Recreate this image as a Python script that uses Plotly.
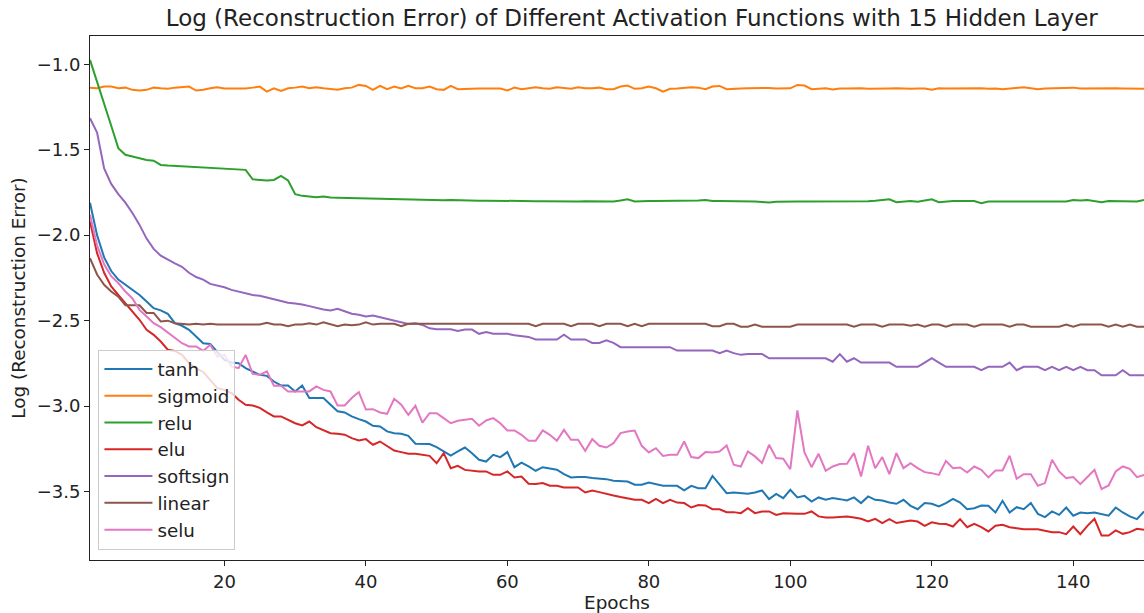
import plotly.graph_objects as go

epochs = list(range(1, 151))

tanh = [-1.81, -2.00, -2.13, -2.21, -2.26, -2.29, -2.32, -2.35, -2.388, -2.427,
        -2.44, -2.46, -2.515, -2.53, -2.554, -2.593, -2.632, -2.636, -2.68, -2.73,
        -2.745, -2.749, -2.778, -2.797, -2.817, -2.823, -2.856, -2.879, -2.879, -2.914,
        -2.879, -2.953, -2.953, -2.953, -2.992, -3.03, -3.037, -3.06, -3.076, -3.09,
        -3.115, -3.119, -3.148, -3.158, -3.162, -3.174, -3.22, -3.22, -3.222, -3.24,
        -3.265, -3.289, -3.265, -3.242, -3.275, -3.314, -3.324, -3.285, -3.298, -3.269,
        -3.357, -3.33, -3.353, -3.378, -3.357, -3.363, -3.372, -3.398, -3.417, -3.415,
        -3.415, -3.421, -3.425, -3.427, -3.437, -3.441, -3.441, -3.46, -3.46, -3.447,
        -3.456, -3.466, -3.466, -3.466, -3.493, -3.466, -3.48, -3.48, -3.408, -3.46,
        -3.509, -3.505, -3.509, -3.513, -3.505, -3.493, -3.544, -3.513, -3.538, -3.489,
        -3.534, -3.525, -3.558, -3.534, -3.548, -3.538, -3.544, -3.552, -3.534, -3.567,
        -3.528, -3.548, -3.552, -3.564, -3.571, -3.548, -3.583, -3.603, -3.567, -3.571,
        -3.587, -3.567, -3.542, -3.564, -3.603, -3.597, -3.581, -3.583, -3.622, -3.554,
        -3.622, -3.591, -3.603, -3.567, -3.63, -3.649, -3.616, -3.636, -3.593, -3.641,
        -3.622, -3.626, -3.622, -3.63, -3.641, -3.593, -3.622, -3.645, -3.661, -3.616]

sigmoid = [-1.137, -1.141, -1.131, -1.131, -1.141, -1.137, -1.150, -1.154, -1.150, -1.137,
           -1.141, -1.144, -1.137, -1.135, -1.131, -1.154, -1.150, -1.141, -1.135, -1.142,
           -1.141, -1.144, -1.142, -1.137, -1.131, -1.160, -1.141, -1.156, -1.141, -1.137,
           -1.131, -1.141, -1.135, -1.141, -1.146, -1.150, -1.141, -1.137, -1.121, -1.127,
           -1.150, -1.127, -1.146, -1.131, -1.142, -1.127, -1.141, -1.141, -1.131, -1.146,
           -1.150, -1.127, -1.146, -1.144, -1.141, -1.142, -1.142, -1.142, -1.142, -1.154,
           -1.137, -1.146, -1.141, -1.135, -1.141, -1.144, -1.135, -1.141, -1.144, -1.135,
           -1.141, -1.141, -1.137, -1.146, -1.146, -1.131, -1.125, -1.144, -1.141, -1.131,
           -1.141, -1.160, -1.144, -1.142, -1.137, -1.135, -1.137, -1.146, -1.131, -1.127,
           -1.146, -1.142, -1.142, -1.141, -1.139, -1.137, -1.139, -1.142, -1.142, -1.141,
           -1.121, -1.125, -1.146, -1.142, -1.141, -1.148, -1.142, -1.142, -1.141, -1.141,
           -1.144, -1.144, -1.146, -1.142, -1.141, -1.144, -1.144, -1.142, -1.142, -1.150,
           -1.141, -1.142, -1.142, -1.141, -1.139, -1.139, -1.141, -1.144, -1.142, -1.146,
           -1.141, -1.137, -1.135, -1.141, -1.146, -1.142, -1.141, -1.141, -1.142, -1.137,
           -1.142, -1.141, -1.142, -1.142, -1.142, -1.141, -1.142, -1.142, -1.144, -1.144]

relu = [-0.975, -1.10, -1.23, -1.36, -1.491, -1.530, -1.540, -1.550, -1.560, -1.564,
        -1.589, -1.593, -1.595, -1.598, -1.600, -1.602, -1.604, -1.606, -1.608, -1.610,
        -1.612, -1.614, -1.618, -1.673, -1.675, -1.680, -1.677, -1.653, -1.680, -1.760,
        -1.770, -1.774, -1.778, -1.774, -1.780, -1.781, -1.782, -1.783, -1.784, -1.786,
        -1.787, -1.788, -1.789, -1.790, -1.792, -1.792, -1.793, -1.794, -1.794, -1.795,
        -1.796, -1.794, -1.796, -1.797, -1.797, -1.798, -1.798, -1.799, -1.799, -1.800,
        -1.800, -1.801, -1.800, -1.801, -1.801, -1.802, -1.801, -1.802, -1.803, -1.803,
        -1.802, -1.803, -1.804, -1.804, -1.803, -1.797, -1.790, -1.803, -1.800, -1.800,
        -1.800, -1.800, -1.800, -1.800, -1.800, -1.800, -1.797, -1.794, -1.800, -1.800,
        -1.800, -1.800, -1.800, -1.800, -1.803, -1.806, -1.809, -1.805, -1.803, -1.803,
        -1.803, -1.803, -1.803, -1.803, -1.803, -1.803, -1.803, -1.803, -1.803, -1.803,
        -1.801, -1.798, -1.794, -1.790, -1.807, -1.803, -1.800, -1.805, -1.796, -1.790,
        -1.807, -1.803, -1.800, -1.800, -1.800, -1.800, -1.813, -1.803, -1.803, -1.803,
        -1.803, -1.803, -1.803, -1.803, -1.803, -1.803, -1.803, -1.803, -1.803, -1.794,
        -1.797, -1.794, -1.800, -1.807, -1.800, -1.801, -1.802, -1.803, -1.803, -1.794]

elu = [-1.92, -2.105, -2.22, -2.30, -2.35, -2.398, -2.447, -2.495, -2.554, -2.583,
       -2.622, -2.67, -2.677, -2.70, -2.749, -2.778, -2.80, -2.846, -2.895, -2.905,
       -2.924, -2.963, -2.992, -2.996, -3.01, -3.037, -3.06, -3.06, -3.08, -3.10,
       -3.113, -3.09, -3.123, -3.14, -3.158, -3.162, -3.167, -3.187, -3.201, -3.193,
       -3.226, -3.207, -3.232, -3.26, -3.269, -3.279, -3.279, -3.287, -3.291, -3.334,
       -3.275, -3.363, -3.349, -3.373, -3.378, -3.382, -3.382, -3.402, -3.402, -3.382,
       -3.417, -3.412, -3.454, -3.456, -3.45, -3.466, -3.466, -3.476, -3.476, -3.476,
       -3.505, -3.493, -3.503, -3.515, -3.523, -3.532, -3.542, -3.548, -3.548, -3.567,
       -3.542, -3.567, -3.548, -3.564, -3.567, -3.593, -3.579, -3.581, -3.603, -3.603,
       -3.62, -3.62, -3.626, -3.597, -3.626, -3.616, -3.616, -3.636, -3.626, -3.63,
       -3.63, -3.63, -3.616, -3.645, -3.651, -3.651, -3.647, -3.645, -3.651, -3.659,
       -3.675, -3.659, -3.684, -3.661, -3.684, -3.675, -3.669, -3.675, -3.70, -3.68,
       -3.688, -3.69, -3.704, -3.661, -3.708, -3.688, -3.708, -3.733, -3.70, -3.694,
       -3.708, -3.714, -3.72, -3.72, -3.72, -3.729, -3.737, -3.737, -3.749, -3.704,
       -3.749, -3.70, -3.659, -3.757, -3.757, -3.727, -3.747, -3.737, -3.718, -3.723]

softsign = [-1.316, -1.40, -1.61, -1.70, -1.76, -1.81, -1.87, -1.94, -2.02, -2.08,
            -2.12, -2.145, -2.165, -2.185, -2.22, -2.245, -2.26, -2.285, -2.295, -2.305,
            -2.32, -2.33, -2.34, -2.35, -2.355, -2.365, -2.375, -2.385, -2.395, -2.40,
            -2.405, -2.415, -2.425, -2.435, -2.44, -2.43, -2.445, -2.46, -2.465, -2.475,
            -2.47, -2.48, -2.49, -2.50, -2.51, -2.52, -2.515, -2.525, -2.545, -2.55,
            -2.55, -2.55, -2.56, -2.552, -2.552, -2.577, -2.567, -2.577, -2.577, -2.577,
            -2.585, -2.59, -2.595, -2.61, -2.61, -2.61, -2.61, -2.582, -2.61, -2.61,
            -2.61, -2.63, -2.63, -2.615, -2.63, -2.655, -2.655, -2.655, -2.655, -2.655,
            -2.655, -2.655, -2.655, -2.675, -2.675, -2.675, -2.675, -2.675, -2.675, -2.69,
            -2.675, -2.69, -2.70, -2.695, -2.695, -2.695, -2.72, -2.72, -2.72, -2.72,
            -2.72, -2.72, -2.72, -2.72, -2.72, -2.74, -2.696, -2.74, -2.72, -2.745,
            -2.745, -2.745, -2.745, -2.745, -2.77, -2.77, -2.77, -2.77, -2.745, -2.72,
            -2.745, -2.77, -2.77, -2.77, -2.77, -2.77, -2.79, -2.77, -2.77, -2.77,
            -2.745, -2.79, -2.77, -2.77, -2.77, -2.79, -2.77, -2.79, -2.77, -2.79,
            -2.77, -2.79, -2.79, -2.82, -2.82, -2.82, -2.79, -2.82, -2.82, -2.82]

linear = [-2.135, -2.23, -2.29, -2.33, -2.36, -2.41, -2.41, -2.41, -2.455, -2.455,
          -2.505, -2.50, -2.515, -2.52, -2.523, -2.518, -2.523, -2.518, -2.523, -2.523,
          -2.523, -2.523, -2.523, -2.523, -2.523, -2.512, -2.523, -2.523, -2.533, -2.523,
          -2.523, -2.515, -2.523, -2.51, -2.523, -2.533, -2.523, -2.527, -2.523, -2.51,
          -2.523, -2.518, -2.518, -2.518, -2.533, -2.518, -2.518, -2.518, -2.518, -2.518,
          -2.518, -2.518, -2.518, -2.518, -2.518, -2.518, -2.518, -2.518, -2.518, -2.518,
          -2.518, -2.518, -2.518, -2.533, -2.518, -2.518, -2.518, -2.518, -2.533, -2.518,
          -2.518, -2.518, -2.533, -2.518, -2.518, -2.518, -2.533, -2.518, -2.533, -2.518,
          -2.518, -2.518, -2.518, -2.518, -2.518, -2.518, -2.518, -2.518, -2.533, -2.533,
          -2.518, -2.518, -2.535, -2.535, -2.523, -2.535, -2.535, -2.535, -2.535, -2.535,
          -2.523, -2.523, -2.523, -2.523, -2.523, -2.523, -2.523, -2.523, -2.535, -2.523,
          -2.523, -2.523, -2.535, -2.523, -2.523, -2.523, -2.53, -2.523, -2.535, -2.523,
          -2.523, -2.535, -2.523, -2.523, -2.523, -2.535, -2.523, -2.523, -2.523, -2.523,
          -2.535, -2.523, -2.523, -2.535, -2.535, -2.535, -2.535, -2.535, -2.523, -2.535,
          -2.523, -2.523, -2.523, -2.523, -2.535, -2.523, -2.535, -2.523, -2.535, -2.535]

selu = [-1.88, -2.06, -2.17, -2.24, -2.28, -2.33, -2.37, -2.437, -2.476, -2.515,
        -2.538, -2.57, -2.603, -2.632, -2.651, -2.651, -2.677, -2.641, -2.71, -2.70,
        -2.768, -2.778, -2.70, -2.811, -2.817, -2.797, -2.881, -2.881, -2.914, -2.914,
        -2.914, -2.914, -2.885, -2.905, -2.914, -2.996, -2.996, -2.953, -2.918, -3.02,
        -3.018, -3.037, -3.045, -2.957, -2.992, -3.051, -2.998, -3.096, -3.041, -3.041,
        -3.07, -3.10, -3.086, -3.08, -3.074, -3.115, -3.084, -3.07, -3.10, -3.142,
        -3.142, -3.168, -3.203, -3.203, -3.142, -3.168, -3.203, -3.139, -3.197, -3.197,
        -3.262, -3.193, -3.232, -3.242, -3.217, -3.158, -3.148, -3.143, -3.232, -3.271,
        -3.246, -3.291, -3.285, -3.285, -3.207, -3.298, -3.304, -3.269, -3.271, -3.265,
        -3.23, -3.343, -3.353, -3.265, -3.294, -3.333, -3.226, -3.304, -3.308, -3.369,
        -3.025, -3.271, -3.357, -3.279, -3.378, -3.353, -3.339, -3.337, -3.275, -3.411,
        -3.232, -3.363, -3.298, -3.398, -3.275, -3.363, -3.334, -3.363, -3.386, -3.392,
        -3.402, -3.32, -3.363, -3.359, -3.388, -3.353, -3.373, -3.417, -3.376, -3.376,
        -3.29, -3.425, -3.398, -3.398, -3.466, -3.45, -3.314, -3.382, -3.421, -3.415,
        -3.456, -3.415, -3.373, -3.485, -3.464, -3.382, -3.353, -3.367, -3.415, -3.402]

series_names = ["tanh", "sigmoid", "relu", "elu", "softsign", "linear", "selu"]
series_values = [tanh, sigmoid, relu, elu, softsign, linear, selu]
colors = ["#1f77b4", "#ff7f0e", "#2ca02c", "#d62728", "#9467bd", "#8c564b", "#e377c2"]

x_tick_vals = [20, 40, 60, 80, 100, 120, 140]
y_tick_vals = [-3.5, -3.0, -2.5, -2.0, -1.5, -1.0]
y_tick_text = ["\u22123.5", "\u22123.0", "\u22122.5", "\u22122.0", "\u22121.5", "\u22121.0"]

title_text = "Log (Reconstruction Error) of Different Activation Functions with 15 Hidden Layer"

fig = go.Figure()
for name, vals, col in zip(series_names, series_values, colors):
    fig.add_trace(go.Scatter(x=epochs, y=vals, mode="lines", name=name,
                             line=dict(color=col, width=2)))

font_family = "DejaVu Sans"
fig.update_layout(
    width=1144, height=613,
    margin=dict(l=90, r=0, t=36, b=53),
    paper_bgcolor="white", plot_bgcolor="white",
    font=dict(family=font_family, size=18, color="#222"),
    title=dict(text=title_text, x=0.514, xref="paper", xanchor="center",
               y=1, yref="container", yanchor="top", pad=dict(t=10),
               font=dict(size=23, family=font_family, color="#222")),
    showlegend=True,
    legend=dict(x=0.008, y=0.02, xanchor="left", yanchor="bottom",
                bgcolor="rgba(255,255,255,0.8)", bordercolor="#cccccc", borderwidth=1,
                font=dict(size=18.3, family=font_family, color="#222"),
                itemwidth=48, tracegroupgap=0),
    xaxis=dict(range=[1, 150], tickvals=x_tick_vals, ticks="outside", ticklen=5,
               tickcolor="#222", showline=True, linecolor="#222", linewidth=1, mirror=True,
               showgrid=False, zeroline=False,
               title=dict(text="Epochs", standoff=4, font=dict(size=18.4)),
               tickfont=dict(size=18)),
    yaxis=dict(range=[-3.9, -0.835], tickvals=y_tick_vals, ticktext=y_tick_text,
               ticks="outside", ticklen=5, tickcolor="#222", showline=True,
               linecolor="#222", linewidth=1, mirror=True, showgrid=False, zeroline=False,
               title=dict(text="Log (Reconstruction Error)", standoff=6, font=dict(size=18.4)),
               tickfont=dict(size=18)),
)

fig.write_html("out.html")
